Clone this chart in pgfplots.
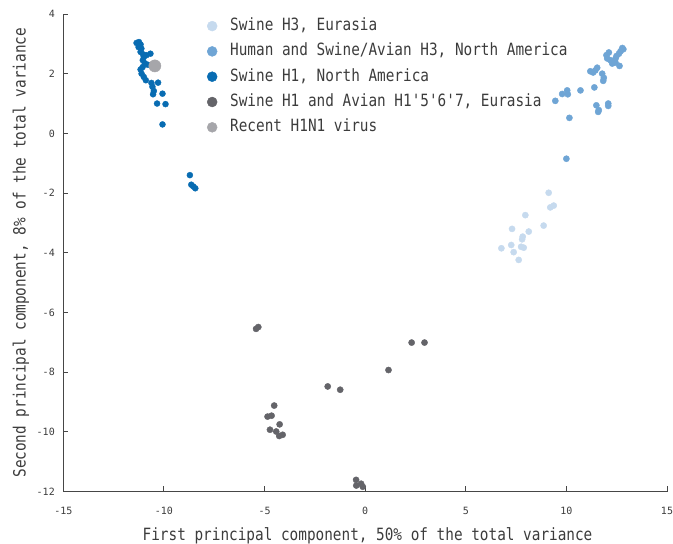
\documentclass[border=0pt]{standalone}
\usepackage{pgfplots}
\pgfplotsset{compat=1.18}
\usepackage{fontspec}
\setmainfont{DejaVu Sans Mono}[FakeStretch=0.85, Ligatures=TeXOff]
\newfontfamily\tickfont{DejaVu Sans Mono}

\definecolor{txt}{RGB}{60,60,60}
\definecolor{axc}{RGB}{70,70,70}
\definecolor{eurH3}{RGB}{198,218,238}
\definecolor{naH3}{RGB}{111,165,213}
\definecolor{naH1}{RGB}{8,108,178}
\definecolor{eurH1}{RGB}{100,100,105}
\definecolor{recent}{RGB}{166,166,170}

\begin{document}
\begin{tikzpicture}
\begin{axis}[name=ax,
  scale only axis, width=603.7bp, height=477.5bp,
  xmin=-15, xmax=15, ymin=-12, ymax=4,
  xtick={-15,-10,...,15}, ytick={-12,-10,...,4},
  axis lines=left, axis line style={-, draw=axc, line width=0.9bp},
  tick style={draw=axc, line width=0.9bp}, major tick length=5bp, tick align=inside,
  minor tick num=0,
  /pgf/number format/assume math mode=true,
  tick label style={font=\tickfont\fontsize{10bp}{11bp}\selectfont, text=txt},
  xticklabel style={yshift=-12bp},
  yticklabel style={xshift=-5bp},
  label style={font=\fontsize{16.9bp}{19bp}\selectfont, text=txt},
  xlabel={First principal component, 50\% of the total variance},
  ylabel={Second principal component, 8\% of the total variance},
  xlabel style={at={(axis description cs:0.504,-0.103)}, anchor=base},
  ylabel style={at={(axis description cs:-0.0626,0.5)}, anchor=base},
  clip=false,
  legend cell align=left,
  legend image code/.code={\draw[#1, mark size=5bp] plot coordinates {(0bp,0bp)};},
  legend style={at={(axis description cs:0.238,0.996)}, anchor=north west, draw=none, fill=none,
    inner sep=0pt, row sep=5.3bp, font=\fontsize{16.9bp}{19bp}\selectfont, text=txt,
    nodes={inner sep=2bp, text height=12.5bp, text depth=3.5bp},
    /tikz/every odd column/.append style={column sep=11bp}},
]
% Swine H3, Eurasia
\addplot[only marks, mark=*, mark size=3.1bp, color=eurH3] coordinates {
  (9.12,-1.99) (9.20,-2.48) (9.37,-2.42) (7.96,-2.74) (8.87,-3.09)
  (7.30,-3.20) (8.13,-3.29) (7.83,-3.46) (7.80,-3.55) (7.26,-3.74)
  (6.77,-3.85) (7.75,-3.80) (7.88,-3.83) (7.38,-3.98) (7.63,-4.24)
};
\addlegendentry{Swine H3, Eurasia}
% Human and Swine/Avian H3, North America
\addplot[only marks, mark=*, mark size=3.1bp, color=naH3] coordinates {
  (12.83,2.82) (12.69,2.75) (12.78,2.86) (12.61,2.67) (12.49,2.59)
  (12.44,2.50) (12.11,2.71) (11.99,2.62) (12.03,2.51) (12.19,2.45)
  (12.28,2.34) (12.44,2.37) (12.64,2.26) (11.53,2.20) (11.44,2.11)
  (11.19,2.08) (11.33,2.04) (11.78,2.00) (11.86,1.86) (11.83,1.76)
  (11.39,1.54) (10.70,1.44) (10.04,1.44) (10.07,1.31) (9.79,1.32)
  (9.45,1.09) (11.49,0.94) (12.08,1.00) (12.08,0.92) (11.58,0.72)
  (11.61,0.78) (10.15,0.52) (10.00,-0.85)
};
\addlegendentry{Human and Swine/Avian H3, North America}
% Swine H1, North America
\addplot[only marks, mark=*, mark size=3.0bp, color=naH1] coordinates {
  (-11.36,3.03) (-11.24,3.06) (-11.16,2.98) (-11.26,2.89) (-11.12,2.84)
  (-11.16,2.73) (-11.04,2.65) (-10.87,2.62) (-10.67,2.67) (-11.00,2.56)
  (-10.80,2.30) (-11.06,2.22) (-11.16,2.14) (-11.11,2.00) (-11.00,1.89)
  (-10.90,1.78) (-10.62,1.69) (-10.29,1.70) (-10.57,1.56) (-10.50,1.42)
  (-10.54,1.31) (-10.07,1.33) (-10.34,1.00) (-9.92,0.98) (-10.07,0.30)
  (-8.71,-1.40) (-8.64,-1.72) (-8.54,-1.78) (-8.44,-1.84)
  (-11.05,2.45) (-10.95,2.35)
};
\addlegendentry{Swine H1, North America}
% Swine H1 and Avian H1'5'6'7, Eurasia
\addplot[only marks, mark=*, mark size=3.1bp, color=eurH1] coordinates {
  (-5.42,-6.55) (-5.31,-6.49) (2.31,-7.01) (2.95,-7.01) (1.16,-7.93)
  (-1.86,-8.48) (-1.24,-8.59) (-4.52,-9.12) (-4.85,-9.49) (-4.65,-9.46)
  (-4.25,-9.75) (-4.73,-9.93) (-4.42,-9.99) (-4.27,-10.14) (-4.10,-10.10)
  (-0.45,-11.61) (-0.44,-11.80) (-0.20,-11.74) (-0.12,-11.84)
};
\addlegendentry{Swine H1 and Avian H1'5'6'7, Eurasia}
% Recent H1N1 virus
\addplot[only marks, mark=*, mark size=6.1bp, color=recent] coordinates {
  (-10.45,2.26)
};
\addlegendentry{Recent H1N1 virus}
\end{axis}
\pgfresetboundingbox
\path[use as bounding box] ([shift={(-63.3bp,-52.5bp)}]ax.south west) rectangle ([shift={(6bp,14bp)}]ax.north east);
\end{tikzpicture}
\end{document}
